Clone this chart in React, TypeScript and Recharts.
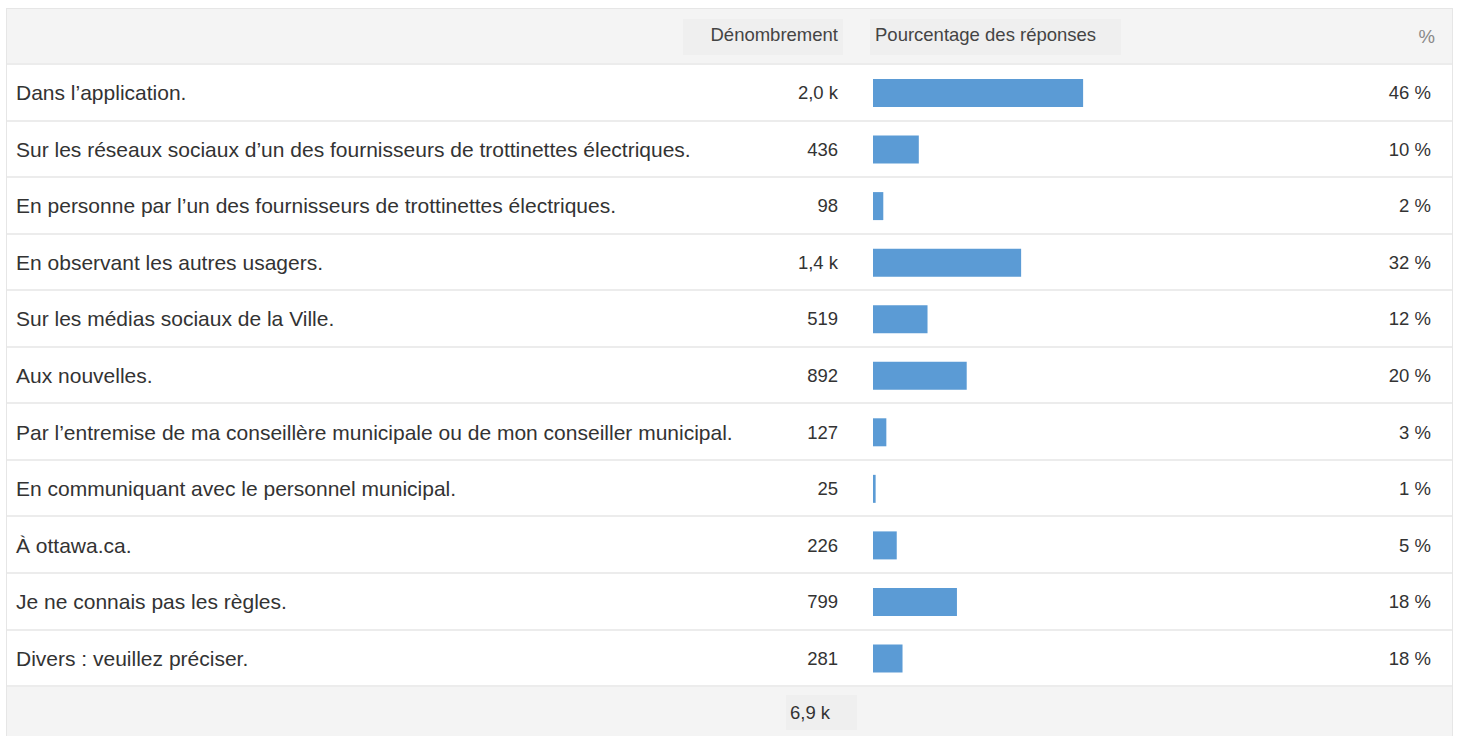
import { BarChart, Bar, XAxis, YAxis } from "recharts";

const labels = [
  "Dans l’application.",
  "Sur les réseaux sociaux d’un des fournisseurs de trottinettes électriques.",
  "En personne par l’un des fournisseurs de trottinettes électriques.",
  "En observant les autres usagers.",
  "Sur les médias sociaux de la Ville.",
  "Aux nouvelles.",
  "Par l’entremise de ma conseillère municipale ou de mon conseiller municipal.",
  "En communiquant avec le personnel municipal.",
  "À ottawa.ca.",
  "Je ne connais pas les règles.",
  "Divers : veuillez préciser.",
];
const counts = [2000, 436, 98, 1410, 519, 892, 127, 25, 226, 799, 281];
const countLabels = ["2,0 k", "436", "98", "1,4 k", "519", "892", "127", "25", "226", "799", "281"];
const percents = [46, 10, 2, 32, 12, 20, 3, 1, 5, 18, 18];
const totalLabel = "6,9 k";
const respondents = 4350;

const data = labels.map((name, i) => ({ name, count: counts[i] }));

const FONT = "Arial, 'Liberation Sans', sans-serif";
const ROW_TOP = 64;
const ROW_H = 56.55;
const TABLE_L = 6;
const TABLE_R = 1453;
const SMALL = 18.5;

export default function App() {
  const textStyle = { fontFamily: FONT, fontSize: 21, color: "#333" };
  return (
    <div style={{ position: "absolute", left: 0, top: 0, width: 1458, height: 736, overflow: "hidden", background: "#fff", fontFamily: FONT }}>
      {/* outer frame */}
      <div style={{ position: "absolute", left: TABLE_L, top: 8, width: TABLE_R - TABLE_L, height: 760, border: "1px solid #e6e6e6", boxSizing: "border-box" }} />
      {/* header */}
      <div style={{ position: "absolute", left: TABLE_L + 1, top: 9, width: TABLE_R - TABLE_L - 2, height: ROW_TOP - 9, background: "#f4f4f4" }} />
      <div style={{ position: "absolute", left: 683, top: 19, width: 160, height: 36, background: "#efefef" }} />
      <div style={{ position: "absolute", left: 870, top: 19, width: 251, height: 36, background: "#efefef" }} />
      <div style={{ position: "absolute", left: 683, top: 17, width: 155, height: 36, display: "flex", alignItems: "center", justifyContent: "flex-end", fontSize: SMALL, color: "#444" }}>
        Dénombrement
      </div>
      <div style={{ position: "absolute", left: 875, top: 17, width: 246, height: 36, display: "flex", alignItems: "center", fontSize: SMALL, color: "#444" }}>
        Pourcentage des réponses
      </div>
      <div style={{ position: "absolute", left: 1300, top: 19, width: 135, height: 36, display: "flex", alignItems: "center", justifyContent: "flex-end", fontSize: SMALL, color: "#888" }}>
        %
      </div>

      {/* row lines */}
      {labels.map((_, i) => (
        <div key={"l" + i} style={{ position: "absolute", left: TABLE_L + 1, top: ROW_TOP + i * ROW_H - 1, width: TABLE_R - TABLE_L - 2, height: 2, background: "#ececec" }} />
      ))}

      {/* footer */}
      <div style={{ position: "absolute", left: TABLE_L + 1, top: ROW_TOP + 11 * ROW_H - 1, width: TABLE_R - TABLE_L - 2, height: 100, background: "#f4f4f4", borderTop: "2px solid #ececec", boxSizing: "border-box" }} />
      <div style={{ position: "absolute", left: 786, top: 695, width: 71, height: 35, background: "#efefef" }} />
      <div style={{ position: "absolute", left: 790, top: 695, width: 67, height: 35, display: "flex", alignItems: "center", ...textStyle, fontSize: SMALL }}>
        {totalLabel}
      </div>

      {/* row texts */}
      {labels.map((name, i) => (
        <div key={"r" + i} style={{ position: "absolute", left: 0, top: ROW_TOP + i * ROW_H + 1, width: 1458, height: ROW_H }}>
          <div style={{ position: "absolute", left: 16, top: 0, height: ROW_H, display: "flex", alignItems: "center", whiteSpace: "nowrap", ...textStyle }}>
            {name}
          </div>
          <div style={{ position: "absolute", left: 700, width: 138, top: 0, height: ROW_H, display: "flex", alignItems: "center", justifyContent: "flex-end", ...textStyle, fontSize: SMALL }}>
            {countLabels[i]}
          </div>
          <div style={{ position: "absolute", left: 1300, width: 131, top: 0, height: ROW_H, display: "flex", alignItems: "center", justifyContent: "flex-end", ...textStyle, fontSize: SMALL }}>
            {percents[i]} %
          </div>
        </div>
      ))}

      {/* bars */}
      <div style={{ position: "absolute", left: 873, top: ROW_TOP + 1 }}>
        <BarChart
          layout="vertical"
          width={457}
          height={ROW_H * labels.length}
          data={data}
          margin={{ top: 0, right: 0, bottom: 0, left: 0 }}
          barCategoryGap={0}
        >
          <XAxis type="number" domain={[0, respondents]} hide />
          <YAxis type="category" dataKey="name" hide />
          <Bar dataKey="count" fill="#5b9bd5" barSize={28} isAnimationActive={false} />
        </BarChart>
      </div>
    </div>
  );
}
